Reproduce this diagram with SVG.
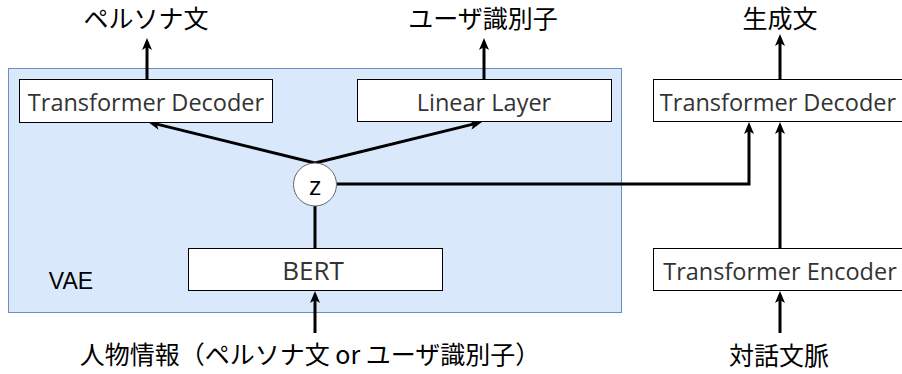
<svg xmlns="http://www.w3.org/2000/svg" width="902" height="374" viewBox="0 0 902 374">
  <defs>
    <marker id="arrow" markerUnits="userSpaceOnUse" viewBox="0 0 12 10" markerWidth="12" markerHeight="10" refX="4" refY="5" orient="auto">
      <path d="M0,0 L12,5 L0,10 L3,5 Z" fill="#000"/>
    </marker>
  </defs>
  <style>
    .box { fill: #ffffff; stroke: #000000; stroke-width: 1; }
    .lbl { font-family: "Open Sans", "Noto Sans", sans-serif; font-size: 23.5px; fill: #333333; text-anchor: middle; dominant-baseline: central; }
    .jp { font-family: "Noto Sans CJK JP", sans-serif; font-size: 25px; fill: #000000; text-anchor: middle; dominant-baseline: central; }
    .edge { fill: none; stroke: #000000; stroke-width: 3; }
    .arr { marker-end: url(#arrow); }
  </style>

  <!-- VAE container -->
  <g id="vae">
    <rect x="8.5" y="68.5" width="613" height="244" fill="#dae8fc" stroke="#6c8ebf" stroke-width="1"/>
    <text x="71" y="281" style="font-family: 'Liberation Sans', Arial, sans-serif; font-size: 23px; fill: #000; text-anchor: middle; dominant-baseline: central;">VAE</text>
  </g>

  <!-- connectors -->
  <g id="connectors">
    <path class="edge arr" d="M147,79 V46"/>
    <path class="edge arr" d="M484,79 V46"/>
    <path class="edge arr" d="M780,80 V42"/>
    <path class="edge arr" d="M315,163 L155.8,123.9"/>
    <path class="edge arr" d="M315,163 L474.2,123.9"/>
    <path class="edge arr" d="M337,184 H749 V130"/>
    <path class="edge arr" d="M780,248 V130"/>
    <path class="edge" d="M315,248 V206"/>
    <path class="edge arr" d="M315,333 V299"/>
    <path class="edge arr" d="M780,333 V299"/>
  </g>

  <g id="vae-decoder">
    <rect class="box" x="19.5" y="79.5" width="253" height="43"/>
    <text class="lbl" x="146" y="102">Transformer Decoder</text>
  </g>

  <g id="linear-layer">
    <rect class="box" x="357.5" y="79.5" width="254" height="42"/>
    <text class="lbl" x="484" y="102">Linear Layer</text>
  </g>

  <g id="dialog-decoder">
    <rect class="box" x="653.5" y="79.5" width="260" height="42"/>
    <text class="lbl" x="778" y="102">Transformer Decoder</text>
  </g>

  <g id="dialog-encoder">
    <rect class="box" x="653.5" y="248.5" width="260" height="42"/>
    <text class="lbl" x="780" y="271">Transformer Encoder</text>
  </g>

  <g id="bert">
    <rect class="box" x="188.5" y="248.5" width="254" height="42"/>
    <text class="lbl" x="313" y="270" style="font-size:26px">BERT</text>
  </g>

  <g id="z">
    <circle cx="315" cy="184.5" r="21.5" fill="#ffffff" stroke="#666666" stroke-width="1"/>
    <text class="lbl" x="315" y="185" style="fill:#000; font-size:26px">z</text>
  </g>

  <g id="labels">
    <text class="jp" x="146" y="17">ペルソナ文</text>
    <text class="jp" x="483" y="17">ユーザ識別子</text>
    <text class="jp" x="780" y="17">生成文</text>
    <text class="jp" x="310" y="353">人物情報（ペルソナ文 or ユーザ識別子）</text>
    <text class="jp" x="779" y="354">対話文脈</text>
  </g>
</svg>
